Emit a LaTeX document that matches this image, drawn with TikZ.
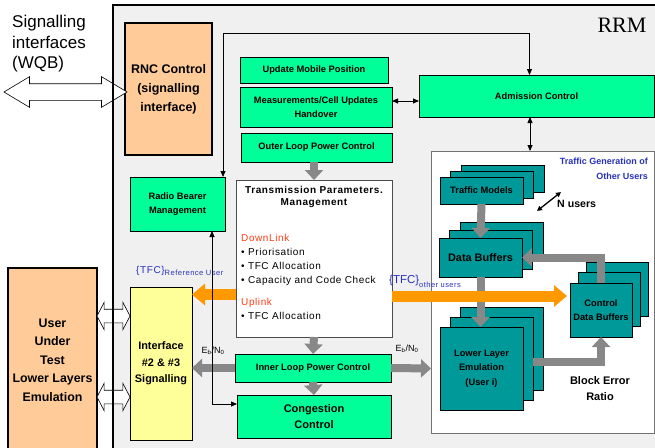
\documentclass[tikz,border=0pt]{standalone}
\usepackage{fontspec}
\setmainfont{Liberation Sans}
\newfontfamily\fonterrm{Liberation Serif}
\newfontfamily\fonteespacada[LetterSpace=6]{Liberation Sans}
\usepackage{tikz}
\usepackage{tkz-euclide}
\usetikzlibrary{arrows.meta,shapes.arrows,calc}

\definecolor{verde}{RGB}{0,255,153}
\definecolor{verdeagua}{RGB}{0,153,153}
\definecolor{laranja}{RGB}{255,204,153}
\definecolor{amarelo}{RGB}{255,255,153}
\definecolor{setalaranja}{RGB}{255,153,0}
\definecolor{cinza}{RGB}{136,136,136}
\definecolor{azul}{RGB}{40,50,190}
\definecolor{vermelho}{RGB}{255,60,20}

\begin{document}
\begin{tikzpicture}[x=1pt,y=-1pt, %cada unidade vale um pixel da figura original (y cresce para baixo)
  caixa/.style={draw, rectangle, inner sep=0pt, outer sep=0pt, align=center, font=\fontsize{9.3}{13.5}\selectfont\bfseries},
  caixa verde/.style={caixa, fill=verde},
  caixa agua/.style={caixa, fill=verdeagua},
  caixa laranja/.style={caixa, fill=laranja, line width=1.6pt},
  seta cinza/.style={draw=cinza, line width=8pt, -{Triangle[length=10pt,width=18pt]}},
  seta laranja/.style={draw=setalaranja, line width=11pt, -{Triangle[length=13pt,width=21pt]}},
  seta preta/.style={line width=0.8pt, {Triangle[length=6pt,width=5pt]}-{Triangle[length=6pt,width=5pt]}},
  seta oca/.style={double arrow, draw, fill=white, inner xsep=0pt, inner ysep=7pt, double arrow head extend=7pt, line width=0.6pt}]

\useasboundingbox (0,0) rectangle (655,447);

%O comando \tkzDefPoints define os pontos (centros dos blocos) no plano. Os pontos sao definidos pelas coordenadas (x/y/NomedoPonto)
\tkzDefPoints{
168.5/89/RNC,
314/70/UMP,
316/107/MEAS,
316.5/147.5/OLPC,
536.5/96/ADM,
542.5/292/TGB,
177.5/204/RB,
314/258.5/TPM,
161/363.5/IF,
313/368/ILPC,
314/416.5/CC,
52.5/360/UUT,
481.5/190.5/TM,
480.5/257.5/DB,
481.5/368.5/LLE,
601/310/CDB,
65.5/92/WQB,
113.5/316/S1,
113.5/397/S2,
537/211/NU1,
561/192/NU2}

%Fundo do bloco RRM (cinza claro)
%---------------------------------------------------
\fill[black!6] (113,5) rectangle (660,452);
\node[anchor=base east, font=\fonterrm\fontsize{22}{22}\selectfont] (rrm) at (650,32) {RRM};
%---------------------------------------------------

%Texto da interface externa
%---------------------------------------------------
\node[anchor=north west, align=left, inner sep=0pt, font=\fontsize{17}{20.5}\selectfont] (sig) at (12,15) {Signalling\\interfaces\\(WQB)};
%---------------------------------------------------

%Blocos laranja: controle do RNC e usuario sob teste
%---------------------------------------------------
\node[caixa laranja, minimum width=87, minimum height=132, font=\fontsize{12.5}{19}\selectfont\bfseries] (rnc) at (RNC) {RNC Control\\(signalling\\interface)};
\node[caixa laranja, minimum width=89, minimum height=184, font=\fontsize{12.4}{18.5}\selectfont\bfseries] (uut) at (UUT) {User\\Under\\Test\\Lower Layers\\Emulation};
%---------------------------------------------------

%Blocos verdes do RRM
%---------------------------------------------------
\node[caixa verde, minimum width=148, minimum height=26] (ump) at (UMP) {Update Mobile Position};
\node[caixa verde, minimum width=152, minimum height=40] (meas) at (MEAS) {Measurements/Cell Updates\\Handover};
\node[caixa verde, minimum width=151, minimum height=29] (olpc) at (OLPC) {Outer Loop Power Control};
\node[caixa verde, minimum width=235, minimum height=42] (adm) at (ADM) {Admission Control};
\node[caixa verde, minimum width=95, minimum height=54] (rb) at (RB) {Radio Bearer\\Management};
\node[caixa verde, minimum width=156, minimum height=28] (ilpc) at (ILPC) {Inner Loop Power Control};
\node[caixa verde, minimum width=154, minimum height=43, font=\fontsize{11}{16}\selectfont\bfseries] (cc) at (CC) {Congestion\\Control};
%---------------------------------------------------

%Bloco amarelo da interface e bloco de parametros de transmissao
%---------------------------------------------------
\node[caixa, fill=amarelo, minimum width=62, minimum height=153, font=\fontsize{10.9}{16.5}\selectfont\bfseries] (if) at (IF) {Interface\\\#2 \& \#3\\Signalling};
\node[caixa, fill=white, draw=black!70, minimum width=156, minimum height=157] (tpm) at (TPM) {};
\node[anchor=north, align=center, inner sep=0pt, font=\fonteespacada\fontsize{10}{12.5}\selectfont\bfseries] (tpmtit) at (314,186) {Transmission Parameters.\\Management};
\node[anchor=north west, align=left, inner sep=0pt, font=\fonteespacada\fontsize{10}{14}\selectfont] (tpmlista) at (241,234) {{\color{vermelho}DownLink}\\%
  \textbullet\ Priorisation\\ \textbullet\ TFC Allocation\\ \textbullet\ Capacity and Code Check\\[8pt]%
  {\color{vermelho}Uplink}\\ \textbullet\ TFC Allocation};
%---------------------------------------------------

%Geracao de trafego dos outros usuarios
%---------------------------------------------------
\node[caixa, fill=white, draw=black!55, line width=0.8pt, minimum width=223, minimum height=282] (tgb) at (TGB) {};
\node[anchor=north east, align=right, inner sep=0pt, text=azul, font=\fontsize{9}{14.5}\selectfont\bfseries] (tgbtit) at (648,158) {Traffic Generation of\\Other Users};

\node[caixa agua, minimum width=83, minimum height=27] (tm3) at ($(TM)+(21,-12)$) {};
\node[caixa agua, minimum width=83, minimum height=27] (tm2) at ($(TM)+(10.5,-6)$) {};
\node[caixa agua, minimum width=83, minimum height=27] (tm) at (TM) {Traffic Models};

\node[caixa agua, minimum width=83, minimum height=39] (db3) at ($(DB)+(21,-16)$) {};
\node[caixa agua, minimum width=83, minimum height=39] (db2) at ($(DB)+(10.5,-8)$) {};
\node[caixa agua, minimum width=83, minimum height=39, font=\fontsize{10.9}{13}\selectfont\bfseries] (db) at (DB) {Data Buffers};

\node[caixa agua, minimum width=83, minimum height=83] (lle3) at ($(LLE)+(20,-20)$) {};
\node[caixa agua, minimum width=83, minimum height=83] (lle2) at ($(LLE)+(10,-10)$) {};
\node[caixa agua, minimum width=83, minimum height=83, font=\fontsize{9.3}{14.5}\selectfont\bfseries] (lle) at (LLE) {Lower Layer\\Emulation\\(User i)};

\node[caixa agua, minimum width=62, minimum height=54] (cdb3) at ($(CDB)+(16,-21)$) {};
\node[caixa agua, minimum width=62, minimum height=54] (cdb2) at ($(CDB)+(8,-10.5)$) {};
\node[caixa agua, minimum width=62, minimum height=54] (cdb) at (CDB) {Control\\Data Buffers};

\node[align=center, inner sep=0pt, font=\fontsize{11}{16}\selectfont\bfseries] (bler) at (600,389) {Block Error\\Ratio};
\node[anchor=west, inner sep=0pt, font=\fontsize{10.6}{12}\selectfont\bfseries] (nusers) at (557,204) {N users};
\draw[line width=1.3pt, {Triangle[length=5pt,width=5pt]}-{Triangle[length=5pt,width=5pt]}] (NU1) -- (NU2);
%---------------------------------------------------

%Rotulos das setas
%---------------------------------------------------
\node[anchor=west, inner sep=0pt, text=azul] (tfcref) at (136,271) {{\fonteespacada\fontsize{10}{10}\selectfont\{TFC\}}{\fonteespacada\fontsize{7.6}{7.6}\selectfont\raisebox{-1.5pt}{Reference User}}};
\node[anchor=west, inner sep=0pt, text=azul] (tfcout) at (389,281) {{\fontsize{11.5}{11.5}\selectfont\{TFC\}}{\fonteespacada\fontsize{7.5}{7.5}\selectfont\raisebox{-4pt}{other users}}};
\node[inner sep=0pt, font=\fontsize{9}{9}\selectfont] (ebno1) at (213,351) {E\textsubscript{b}/N\textsubscript{0}};
\node[inner sep=0pt, font=\fontsize{9}{9}\selectfont] (ebno2) at (407,349) {E\textsubscript{b}/N\textsubscript{0}};
%---------------------------------------------------

%Setas cinzas grossas
%---------------------------------------------------
\draw[seta cinza] (olpc.south -| tpm.north) -- (tpm.north);
\draw[seta cinza] (tpm.south) -- (ilpc.north);
\draw[seta cinza] (ilpc.south) -- (cc.north);
\draw[seta cinza] (ilpc.west) -- (if.east |- ilpc.west);
\draw[seta cinza] (ilpc.east) -- (lle.west -| tgb.west);
\draw[seta cinza] (tm.south) -- (db.north);
\draw[seta cinza] (db.south) -- (db.south |- lle.north);
\draw[seta cinza] (cdb.north) |- (db.east);
\draw[seta cinza] ($(lle2.east)+(0,3)$) -| (cdb.south);
%---------------------------------------------------

%Setas laranja (TFC)
%---------------------------------------------------
\draw[seta laranja] ($(tpm.west)+(0,36)$) -- ($(if.east)+(0,-69)$);
\draw[seta laranja] ($(tpm.east)+(0,37.5)$) -- ($(cdb.west)+(-3,-14)$);
%---------------------------------------------------

%Setas duplas vazadas (interfaces)
%---------------------------------------------------
\node[seta oca, inner ysep=8pt, minimum height=123, double arrow tip angle=62] (sWQB) at (WQB) {};
\node[seta oca, inner ysep=6.5pt, minimum height=33, double arrow tip angle=125] (s1) at (S1) {};
\node[seta oca, inner ysep=6.5pt, minimum height=33, double arrow tip angle=125] (s2) at (S2) {};
%---------------------------------------------------

%Moldura do bloco RRM (linha grossa a esquerda e em cima, por cima das setas)
%---------------------------------------------------
\draw[line width=1.5pt] (113,452) -- (113,5) -- (660,5);
%---------------------------------------------------

%Ligacoes pretas
%---------------------------------------------------
\draw[seta preta] ($(meas.east)+(0,-6)$) -- ($(adm.west)+(0,5)$);
\draw[seta preta] ($(adm.south)+(-6.5,0)$) -- ($(tgb.north)+(-12.5,0)$);
\draw[seta preta] ($(rb.north east)+(-2,0)$) -- ++(0,-144) -| ($(adm.north)+(-7,0)$);
\draw[seta preta] ($(rb.south)+(34.5,0)$) |- ($(cc.west)+(0,-12.5)$);
%---------------------------------------------------

\end{tikzpicture}
\end{document}
